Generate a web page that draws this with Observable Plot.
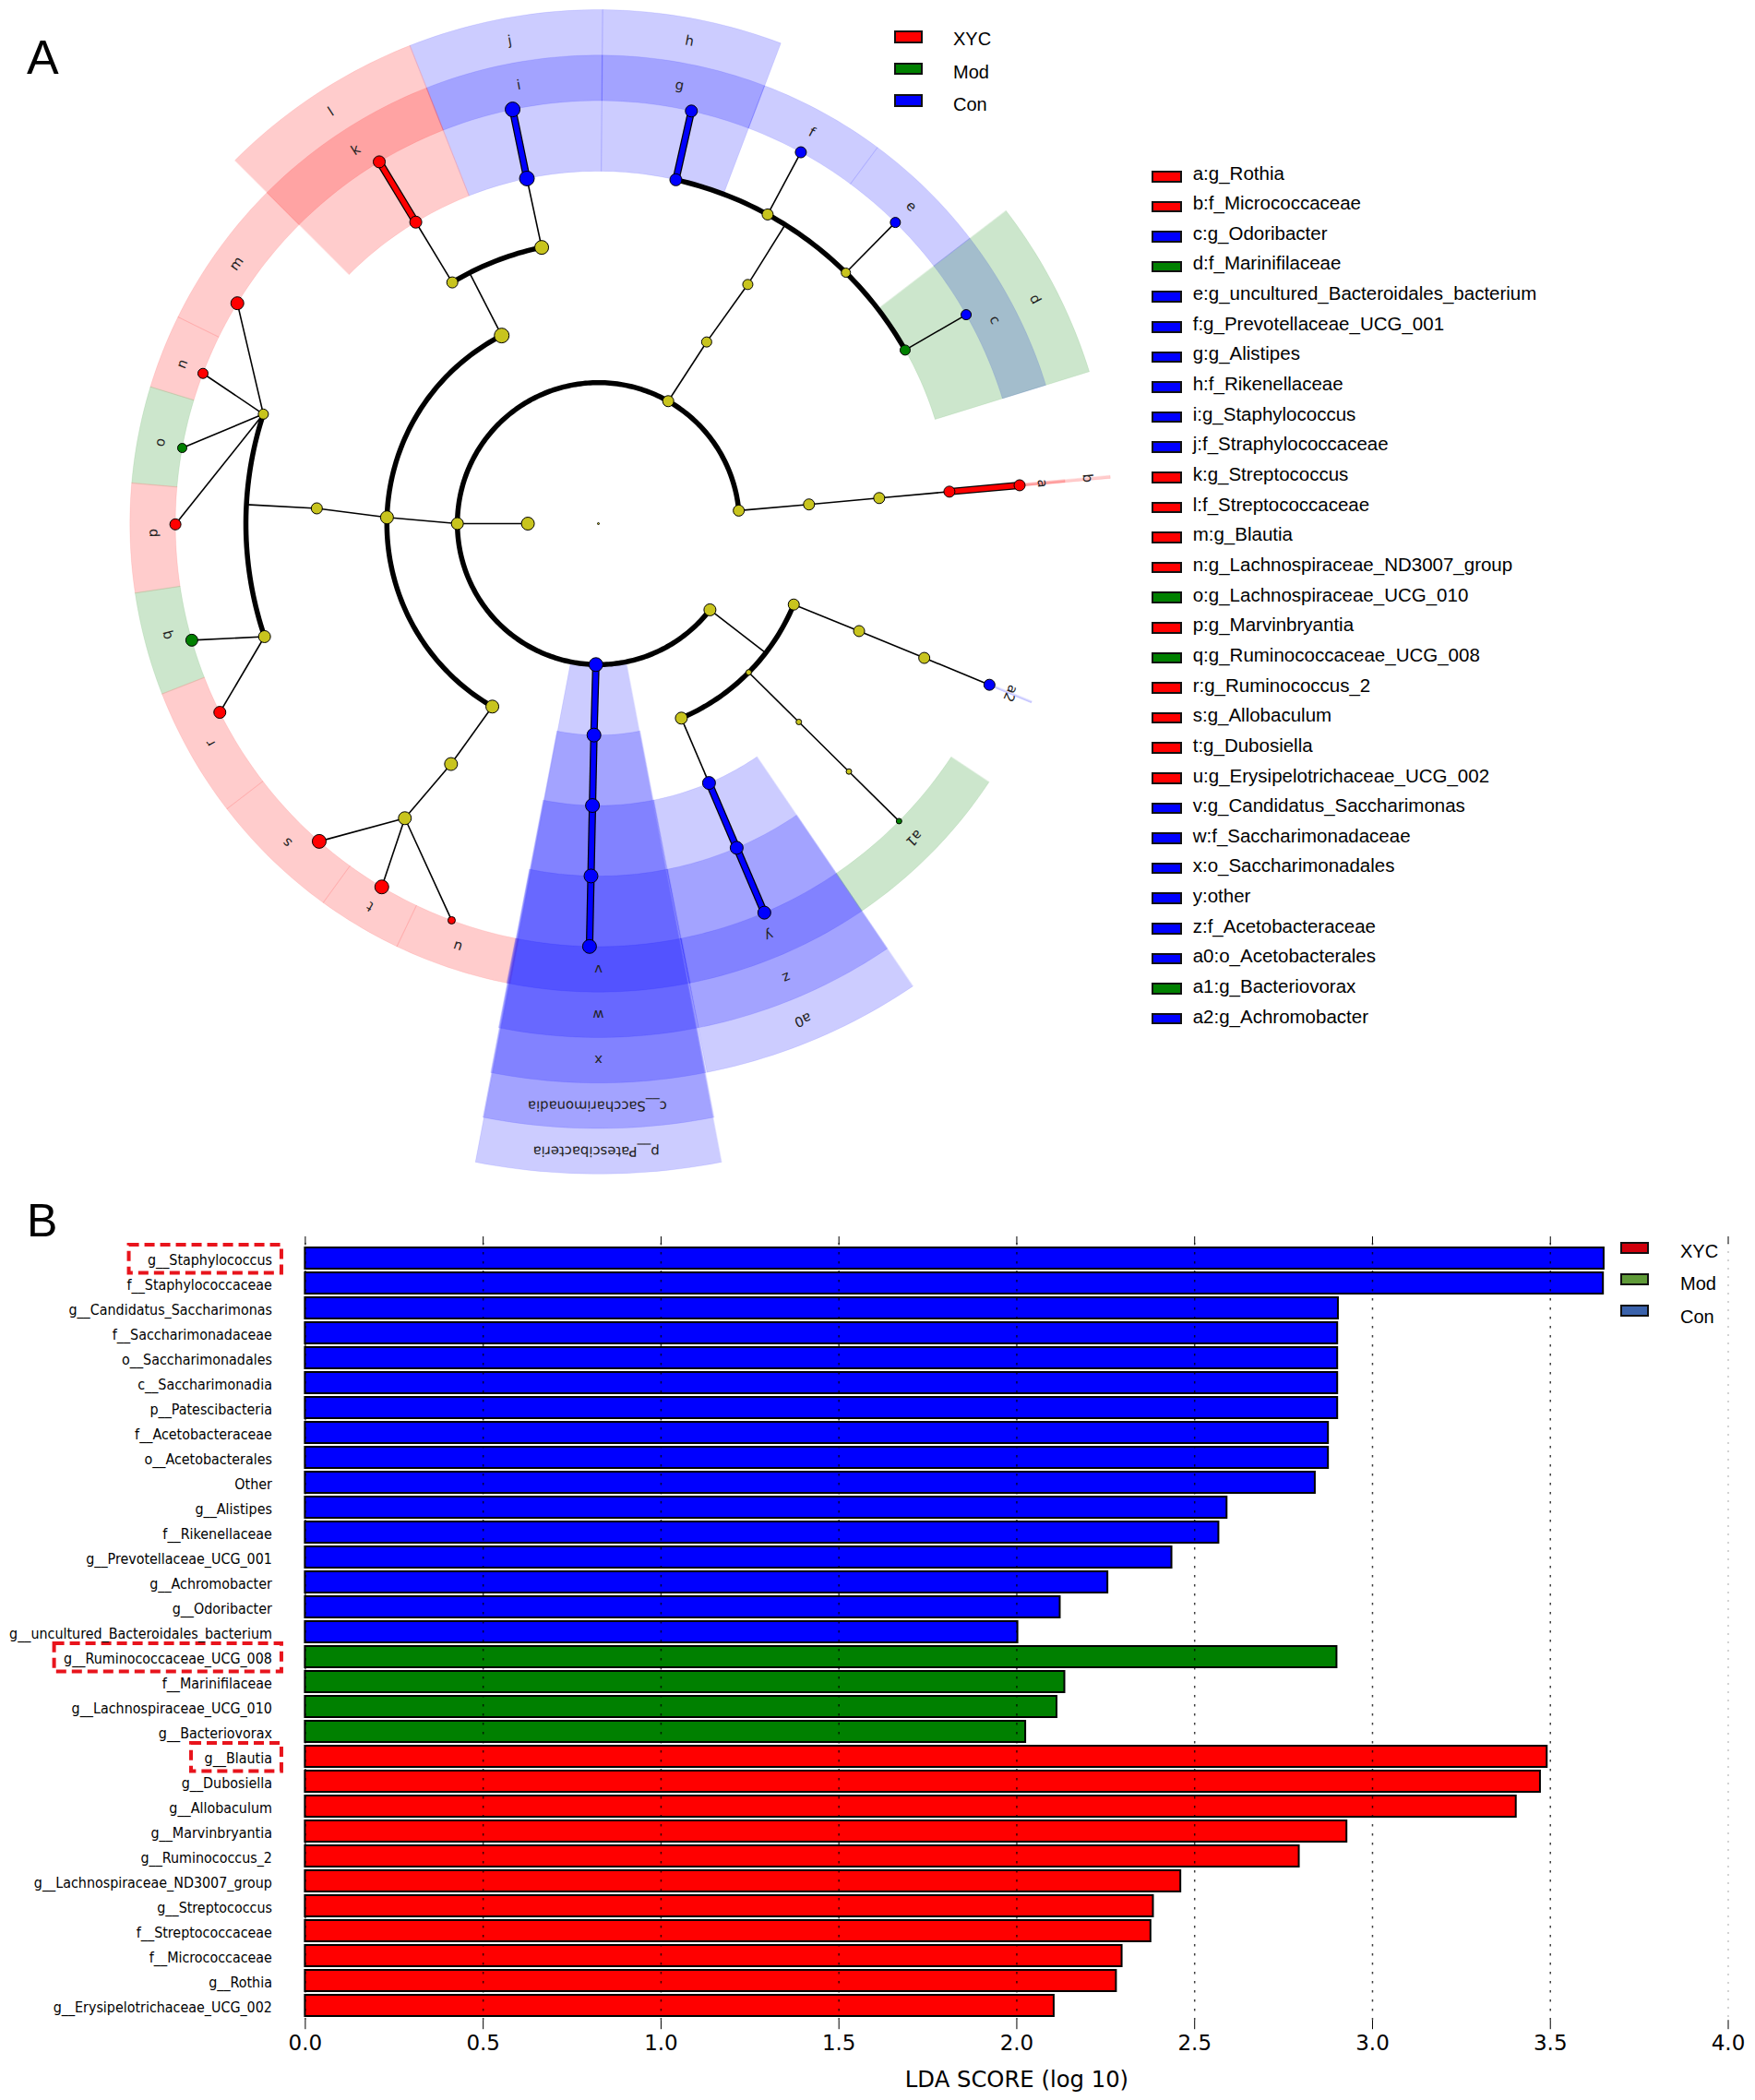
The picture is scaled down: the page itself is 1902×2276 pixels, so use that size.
<!DOCTYPE html>
<html><head><meta charset="utf-8">
<script src="https://cdn.jsdelivr.net/npm/d3@7"></script>
<script src="https://cdn.jsdelivr.net/npm/@observablehq/plot@0.6"></script>
<style>
html,body{margin:0;padding:0;background:#fff}
#page{position:relative;width:1902px;height:2276px;overflow:hidden;font-family:"Liberation Sans",Arial,sans-serif}
#page svg{position:absolute;left:0;background:transparent}
.lbl{position:absolute;white-space:nowrap;color:#000}
.sw{position:absolute;box-sizing:border-box;border:2px solid #111}
</style></head><body><div id="page"></div>
<script>
// ---------- groups
const groupNames = ["XYC","Mod","Con","None"];
const groupColors = ["#ff0000","#008000","#0000ff","#c8c41e"];
const legendBColors = ["#d0000c","#5f9a38","#3a62ab"];

// ---------- panel B
const barLabels = ["g__Staphylococcus","f__Staphylococcaceae","g__Candidatus_Saccharimonas","f__Saccharimonadaceae","o__Saccharimonadales","c__Saccharimonadia","p__Patescibacteria","f__Acetobacteraceae","o__Acetobacterales","Other","g__Alistipes","f__Rikenellaceae","g__Prevotellaceae_UCG_001","g__Achromobacter","g__Odoribacter","g__uncultured_Bacteroidales_bacterium","g__Ruminococcaceae_UCG_008","f__Marinifilaceae","g__Lachnospiraceae_UCG_010","g__Bacteriovorax","g__Blautia","g__Dubosiella","g__Allobaculum","g__Marvinbryantia","g__Ruminococcus_2","g__Lachnospiraceae_ND3007_group","g__Streptococcus","f__Streptococcaceae","f__Micrococcaceae","g__Rothia","g__Erysipelotrichaceae_UCG_002"];
const barValues = [3.651,3.649,2.904,2.902,2.902,2.902,2.902,2.876,2.876,2.839,2.591,2.568,2.436,2.256,2.122,2.003,2.90,2.135,2.113,2.025,3.491,3.472,3.404,2.928,2.794,2.461,2.384,2.377,2.296,2.28,2.105];
const barGroups = ["Con","Con","Con","Con","Con","Con","Con","Con","Con","Con","Con","Con","Con","Con","Con","Con","Mod","Mod","Mod","Mod","XYC","XYC","XYC","XYC","XYC","XYC","XYC","XYC","XYC","XYC","XYC"];
const ticksX = [0,0.5,1,1.5,2,2.5,3,3.5,4];
const boxedLabels = ["g__Staphylococcus","g__Ruminococcaceae_UCG_008","g__Blautia"];
const boxedStart = [-0.495,-0.705,-0.32];

// ---------- panel A legend
const cladeNames = ["a:g_Rothia","b:f_Micrococcaceae","c:g_Odoribacter","d:f_Marinifilaceae","e:g_uncultured_Bacteroidales_bacterium","f:g_Prevotellaceae_UCG_001","g:g_Alistipes","h:f_Rikenellaceae","i:g_Staphylococcus","j:f_Straphylococcaceae","k:g_Streptococcus","l:f_Streptococcaceae","m:g_Blautia","n:g_Lachnospiraceae_ND3007_group","o:g_Lachnospiraceae_UCG_010","p:g_Marvinbryantia","q:g_Ruminococcaceae_UCG_008","r:g_Ruminococcus_2","s:g_Allobaculum","t:g_Dubosiella","u:g_Erysipelotrichaceae_UCG_002","v:g_Candidatus_Saccharimonas","w:f_Saccharimonadaceae","x:o_Saccharimonadales","y:other","z:f_Acetobacteraceae","a0:o_Acetobacterales","a1:g_Bacteriovorax","a2:g_Achromobacter"];
const cladeGroups = ["XYC","XYC","Con","Mod","Con","Con","Con","Con","Con","Con","XYC","XYC","XYC","XYC","Mod","XYC","Mod","XYC","XYC","XYC","XYC","Con","Con","Con","Con","Con","Con","Mod","Con"];

// ---------- panel A tree: id, level, angle (deg clockwise from north), abundance, group
const treeNodes = [
["root",0,0,1,"None"],["n1",1,270,7,"None"],["n2",2,270,6.5,"None"],
["a1x",2,84.7,6,"None"],["a2x",3,84.8,6,"None"],["a3x",4,84.8,6,"None"],["b",5,84.8,6,"XYC"],["a",6,84.8,6,"XYC"],
["d2",2,29.7,6,"None"],["d3",3,30.8,5.5,"None"],["d4",4,32,5.5,"None"],
["h",5,12.7,6.5,"Con"],["g",6,12.7,6.5,"Con"],["f5",5,28.7,6,"None"],["f",6,28.6,6,"Con"],
["e5",5,44.6,5,"None"],["e",6,44.6,5.5,"Con"],["d",5,60.5,5.5,"Mod"],["c",6,60.4,5.5,"Con"],
["n3",3,271.7,7,"None"],["n4",4,273.1,6,"None"],["q5",5,251.3,6.5,"None"],["m5",5,288.1,5.5,"None"],
["m",6,301.4,7,"XYC"],["n",6,290.8,5.5,"XYC"],["o",6,280.3,5,"Mod"],["p",6,269.9,6,"XYC"],["q",6,254,6.5,"Mod"],["r",6,243.5,6.5,"XYC"],
["s3",3,210.1,7,"None"],["s4",4,211.5,7,"None"],["s5",5,213.3,7,"None"],["s",6,221.3,7.5,"XYC"],["t",6,210.8,7.5,"XYC"],["u",6,200.3,4,"XYC"],
["l3",3,332.8,8,"None"],["k4",4,328.8,6,"None"],["l",5,328.8,6.5,"XYC"],["k",6,328.8,6.5,"XYC"],
["j4",4,348.4,7.5,"None"],["j",5,348.3,8,"Con"],["i",6,348.3,8,"Con"],
["pp",2,181,7.5,"Con"],["cc",3,181.2,7.5,"Con"],["x",4,181.2,7.5,"Con"],["w",5,181.2,7.5,"Con"],["v",6,181.2,7.5,"Con"],
["w2",2,127.7,6.5,"None"],["z3",3,112.5,6,"None"],["z4",4,112.4,6,"None"],["z5",5,112.4,6,"None"],["a2",6,112.4,6,"Con"],
["y3",3,134.7,3,"None"],["y4",4,134.7,3,"None"],["y5",5,134.7,3,"None"],["a1",6,134.7,3,"Mod"],
["t3",3,156.9,6.5,"None"],["a0",4,156.9,7,"Con"],["z",5,156.9,7,"Con"],["y",6,156.9,7,"Con"]
];
const thinEdges = [["n1","n2"],["n2","n3"],["n3","n4"],["q5","q"],["q5","r"],["m5","m"],["m5","n"],["m5","o"],["m5","p"],
["s3","s4"],["s4","s5"],["s5","s"],["s5","t"],["s5","u"],["k4","l"],["j4","j"],["d2","d3"],["d3","d4"],["f5","f"],["e5","e"],["d","c"],
["a1x","a2x"],["a2x","a3x"],["a3x","b"],["z3","z4"],["z4","z5"],["z5","a2"],["y3","y4"],["y4","y5"],["y5","a1"],["t3","a0"]];
const thickEdges = [["l","k"],["j","i"],["h","g"],["b","a"],["pp","cc"],["cc","x"],["x","w"],["w","v"],["a0","z"],["z","y"]];
// stub: node id, next level, reached on its parent arc
const arcStubs = [["n4",5],["l3",4],["d4",5],["w2",3]];
// arcs: level, from angle, to angle
const arcs = [[2,127.7,444.7],[3,210.1,332.8],[3,112.5,156.9],[4,328.8,348.4],[5,12.7,60.5],[5,251.3,288.1]];
// highlighted clades: id, from angle, to angle, inner level, outer ring, group, narrowing of the outer edge
const clades = [
["a",84.65,84.95,6,1,"XYC",0],["b",84.65,84.95,5,2,"XYC",0],["c",52.5,72.8,6,1,"Con",0],["d",52.5,72.8,5,2,"Mod",0],["e",36.6,52.5,6,1,"Con",0],["f",20.8,36.6,6,1,"Con",0],
["g",0.5,20.8,6,1,"Con",0],["h",0.5,20.8,5,2,"Con",0],["i",-21.5,0.5,6,1,"Con",0],["j",-21.5,0.5,5,2,"Con",0],["k",-45,-21.5,6,1,"XYC",0],["l",-45,-21.5,5,2,"XYC",0],
["m",296.2,315,6,1,"XYC",0],["n",287,296.2,6,1,"XYC",0],["o",275,287,6,1,"Mod",0],["p",261.5,275,6,1,"XYC",0],["q",248.7,261.5,6,1,"Mod",0],["r",232.5,248.7,6,1,"XYC",0],
["s",216,232.5,6,1,"XYC",0],["t",205.5,216,6,1,"XYC",0],["u",190.9,205.5,6,1,"XYC",0],
["v",168.7,191.3,6,1,"Con",0],["w",168.7,191.3,5,2,"Con",0.1],["x",168.7,191.3,4,3,"Con",0.2],["cc",168.7,191.3,3,4,"Con",0.3],["pp",168.7,191.3,2,5,"Con",0.4],
["y",145.8,168.8,6,1,"Con",0],["z",145.8,168.8,5,2,"Con",0],["a0",145.8,168.8,4,3,"Con",0],["a1",123.5,145.8,6,1,"Mod",0],["a2",112.3,112.5,6,1,"Con",0]
];
// clade labels: text, angle, ring (1 = first ring outside the leaves)
const cladeLabels = [
["a",84.8,1],["b",84.7,2],["c",62.8,1],["d",62.8,2],["e",44.6,1],["f",28.6,1],["g",10.5,1],["h",10.7,2],["i",-10.3,1],["j",-10.4,2],["k",-33,1],["l",-33,2],
["m",305.7,1],["n",291,1],["o",280.5,1],["p",268.8,1],["q",255.5,1],["r",240.5,1],["s",224.3,1],["t",210.8,1],["u",198.4,1],
["v",180,1],["w",180,2],["x",180,3],["c__Saccharimonadia",180.1,4],["p__Patescibacteria",180.2,5],
["y",157.5,1],["z",157.5,2],["a0",157.6,3],["a1",134.9,1],["a2",112.4,1]
];

// ---------- helpers
const levelPx = 76.4, ringStep = 0.645;
const rad = a => a*Math.PI/180;
const polar = (level,angle) => [level*Math.sin(rad(angle)), level*Math.cos(rad(angle))];
const ringOuter = k => 6 + k*ringStep;
const nodes = treeNodes.map(([id,level,angle,size,group]) => {const [x,y]=polar(level,angle);return {id,level,angle,size,group,x,y};});
const byId = new Map(nodes.map(d=>[d.id,d]));
const linkOf = ([p,c]) => {const a=byId.get(p),b=byId.get(c);return {x1:a.x,y1:a.y,x2:b.x,y2:b.y,group:b.group};};
const thin = thinEdges.map(linkOf).concat(arcStubs.map(([id,l])=>{const a=byId.get(id),[x2,y2]=polar(l,a.angle);return {x1:a.x,y1:a.y,x2,y2};}));
const thick = thickEdges.map(linkOf);
const arcPts = arcs.flatMap(([l,a,b],i)=>{const n=Math.ceil(b-a);return d3.range(n+1).map(j=>{const [x,y]=polar(l,a+(b-a)*j/n);return {x,y,arc:i};});});
const sectorPts = clades.flatMap(([id,a,b,inner,ring,group,trim],i)=>{
  const n=Math.max(2,Math.ceil(b-a)), out=ringOuter(ring), pts=[];
  const a2=a+trim, b2=b-trim;
  for(let j=0;j<=n;j++){const [x,y]=polar(out,a2+(b2-a2)*j/n);pts.push({x,y,sec:i,group});}
  for(let j=n;j>=0;j--){const [x,y]=polar(inner,a+(b-a)*j/n);pts.push({x,y,sec:i,group});}
  return pts;});
const labelRows = cladeLabels.map(([text,angle,ring])=>{const [x,y]=polar(6+(ring-0.5)*ringStep,angle);return {text,angle,x,y};});

const page = document.getElementById("page");
const colorScale = {domain:groupNames,range:groupColors};
const cx=648, cy=567, hA=1290;

const plotA = Plot.plot({
  width:1902,height:hA,margin:0,
  style:{background:"transparent",fontFamily:"DejaVu Sans"},
  x:{domain:[-cx/levelPx,(1902-cx)/levelPx],axis:null},
  y:{domain:[(cy-hA)/levelPx,cy/levelPx],axis:null},
  r:{type:"linear",domain:[0,10],range:[0,10]},
  color:colorScale,
  marks:[
    Plot.line(sectorPts,{x:"x",y:"y",z:"sec",fill:"group",fillOpacity:0.2,stroke:"group",strokeOpacity:0.12,strokeWidth:0.8,curve:"linear-closed"}),
    Plot.link(thin,{x1:"x1",y1:"y1",x2:"x2",y2:"y2",stroke:"black",strokeWidth:1.6}),
    Plot.line(arcPts,{x:"x",y:"y",z:"arc",stroke:"black",strokeWidth:5.5}),
    Plot.link(thick,{x1:"x1",y1:"y1",x2:"x2",y2:"y2",stroke:"black",strokeWidth:8}),
    Plot.link(thick,{x1:"x1",y1:"y1",x2:"x2",y2:"y2",stroke:"group",strokeWidth:5.5}),
    Plot.dot(nodes,{x:"x",y:"y",r:"size",fill:"group",stroke:"black",strokeWidth:1,sort:null}),
    Plot.text(labelRows,{x:"x",y:"y",text:"text",rotate:"angle",fontSize:14.8,fill:"#222"})
  ]
});
plotA.style.top="0px";
page.append(plotA);

const bars = barLabels.map((label,i)=>({label,value:barValues[i],group:barGroups[i]}));
const boxes = boxedLabels.map((label,i)=>({label,start:boxedStart[i]}));
const hB=986;
const plotB = Plot.plot({
  width:1902,height:hB,
  marginLeft:330.4,marginRight:29.5,marginTop:57,marginBottom:86.8,
  style:{background:"transparent",fontFamily:"DejaVu Sans"},
  x:{domain:[0,4],axis:null},
  y:{domain:barLabels,padding:0.148,axis:null},
  color:colorScale,
  marks:[
    Plot.barX(bars,{x:"value",y:"label",fill:"group",stroke:"black",strokeWidth:2,sort:null}),
    Plot.gridX(ticksX.slice(0,8),{stroke:"black",strokeOpacity:0.75,strokeDasharray:"2.5 7.5",strokeWidth:1.5}),
    Plot.gridX(ticksX.slice(8),{stroke:"#999",strokeOpacity:0.7,strokeDasharray:"2 7",strokeWidth:1.2,marginTop:155}),
    Plot.barX(boxes,{x1:"start",x2:-0.066,y:"label",fill:"none",stroke:"#e8141c",strokeWidth:4,strokeDasharray:"11 6",insetTop:-3,insetBottom:-4.5}),
    Plot.axisY({domain:barLabels,anchor:"left",tickSize:0,tickPadding:36,fontSize:15.9,dy:2,label:null,fontFamily:"DejaVu Sans Condensed"}),
    Plot.axisX(ticksX,{anchor:"top",tickSize:8,tickFormat:()=>"",label:null,marginTop:53}),
    Plot.axisX(ticksX,{anchor:"bottom",tickSize:10,tickPadding:6,tickFormat:d3.format(".1f"),fontSize:23,label:null}),
    Plot.axisX(ticksX,{anchor:"bottom",tickSize:0,tickFormat:()=>"",fontSize:24.3,label:"LDA SCORE (log 10)",labelAnchor:"center",labelArrow:"none",labelOffset:72})
  ]
});
plotB.style.top="1290px";
page.append(plotB);

// ---------- legends and panel letters as page text
function label(text,x,yc,size,family){const d=document.createElement("div");d.className="lbl";d.textContent=text;
  d.style.cssText=`left:${x}px;top:${yc-size}px;font-size:${size}px;line-height:${2*size}px;`+(family?`font-family:${family};`:"");page.append(d);}
function swatch(x,y,w,h,c){const d=document.createElement("div");d.className="sw";d.style.cssText=`left:${x}px;top:${y}px;width:${w}px;height:${h}px;background:${c}`;page.append(d);}
label("A",29,62,52); label("B",29,1323,50);
groupNames.slice(0,3).forEach((g,i)=>{swatch(969,33+i*34.6,31,13.5,groupColors[i]);label(g,1033,42+i*35.6,20);});
cladeNames.forEach((t,i)=>{swatch(1248,185+i*32.6,33,12.5,groupColors[groupNames.indexOf(cladeGroups[i])]);label(t,1292.7,187+i*32.65,20.5);});
groupNames.slice(0,3).forEach((g,i)=>{swatch(1756,1345.7+i*34,31,13.5,legendBColors[i]);label(g,1821,1355.5+i*35.5,20);});
</script></body></html>
